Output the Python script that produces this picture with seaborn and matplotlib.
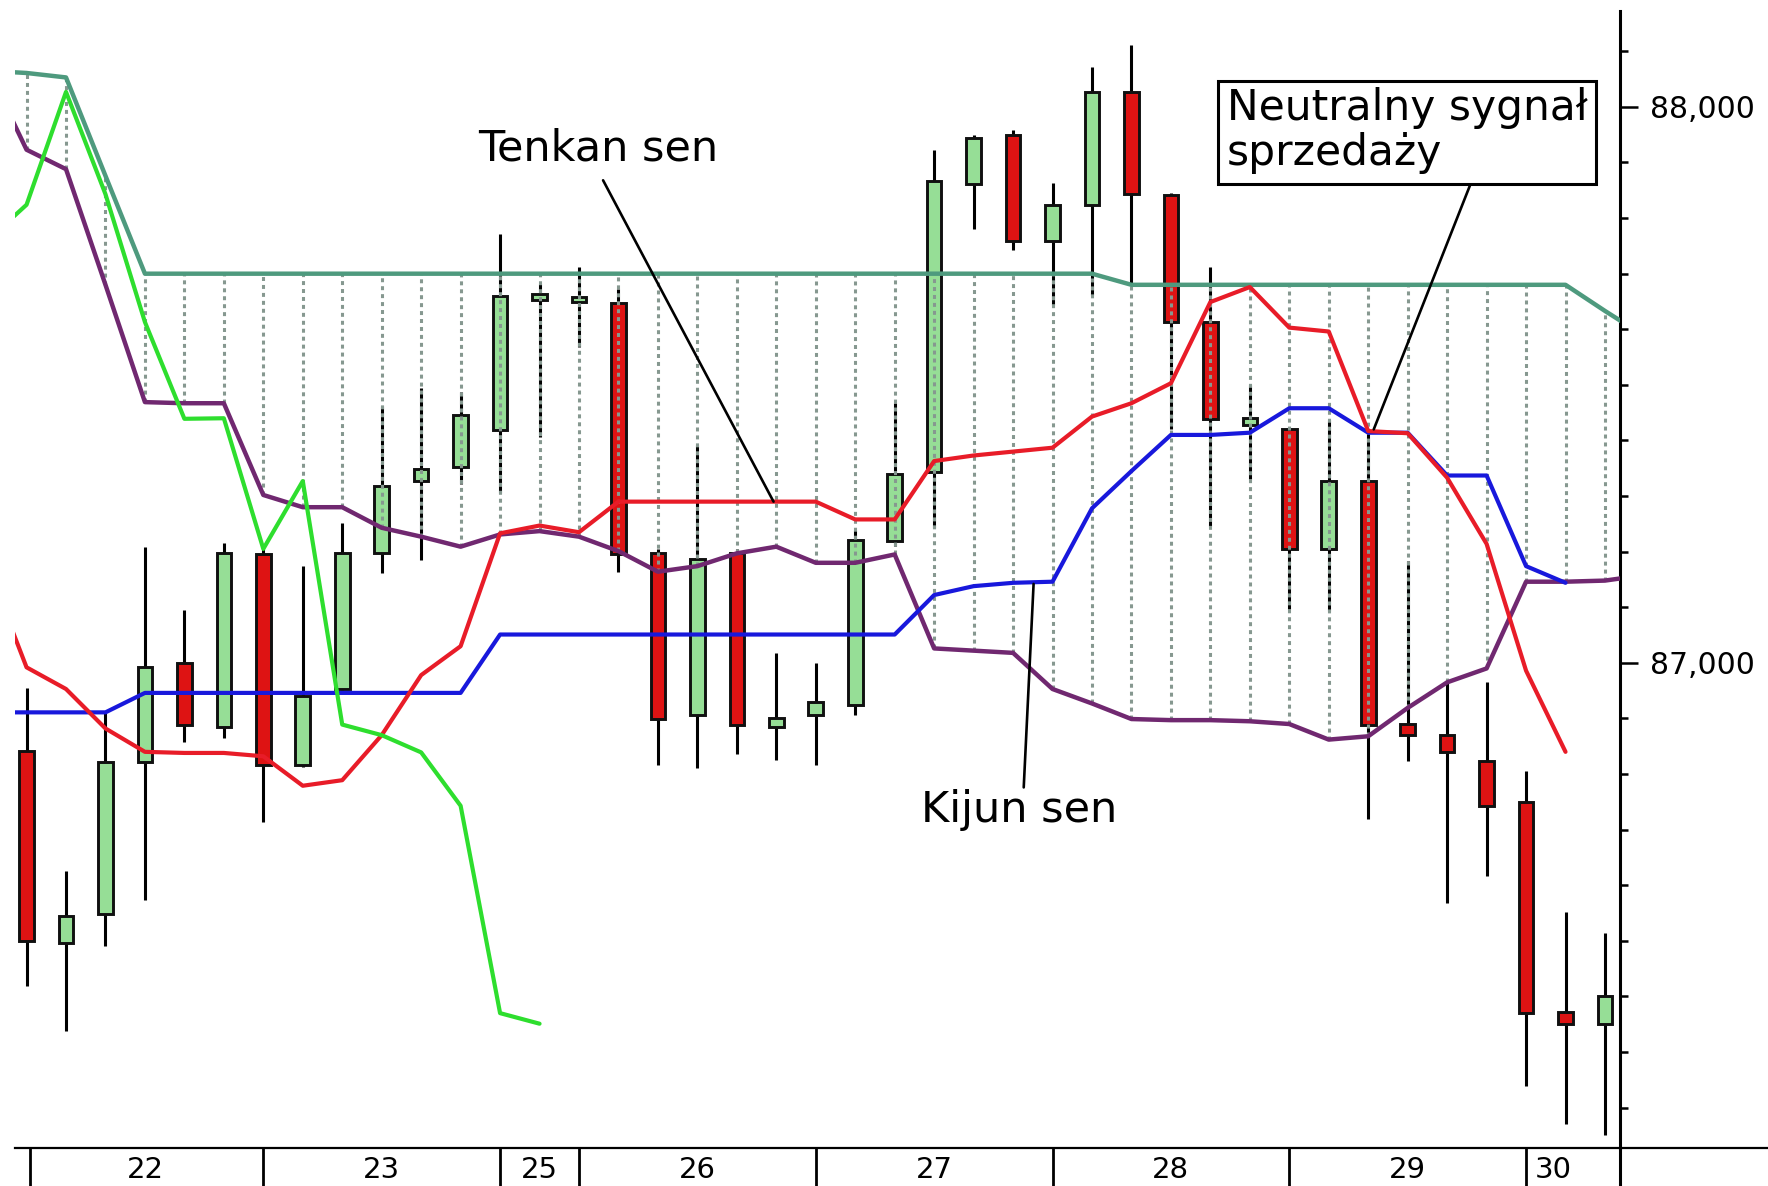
import numpy as np
import seaborn as sns
import matplotlib.pyplot as plt
from matplotlib.lines import Line2D
from matplotlib.patches import Rectangle
from matplotlib.ticker import MultipleLocator

# 4h candles, index 0..40 (22nd to 30th)
opens = [86842, 86497, 86548, 86821, 86999, 86885, 87195, 86816, 86953, 87197,
         87327, 87352, 87418, 87652, 87649, 87648, 87197, 86907, 87197, 86884,
         86906, 86924, 87219, 87344, 87861, 87950, 87759, 87824, 88027, 87841,
         87613, 87428, 87420, 87205, 87327, 86890, 86871, 86823, 86750, 86372,
         86351]
highs = [86955, 86625, 86911, 87208, 87096, 87216, 87207, 87174, 87251, 87462,
         87495, 87488, 87771, 87682, 87712, 87673, 87205, 87391, 87205, 87018,
         86999, 87239, 87467, 87923, 87950, 87959, 87864, 88072, 88111, 87845,
         87712, 87500, 87422, 87437, 87416, 87184, 86965, 86965, 86806, 86552,
         86514]
lows = [86418, 86337, 86491, 86574, 86858, 86864, 86713, 86813, 86951, 87162,
        87185, 87321, 87306, 87406, 87568, 87164, 86816, 86811, 86836, 86825,
        86816, 86907, 87211, 87243, 87781, 87743, 87643, 87661, 87682, 87420,
        87247, 87331, 87097, 87093, 86720, 86823, 86568, 86617, 86239, 86171,
        86151]
closes = [86500, 86545, 86821, 86993, 86888, 87197, 86816, 86941, 87197, 87318,
          87348, 87445, 87659, 87663, 87658, 87195, 86899, 87187, 86889, 86901,
          86929, 87221, 87339, 87867, 87944, 87759, 87824, 88027, 87843, 87613,
          87439, 87440, 87205, 87327, 86889, 86870, 86839, 86743, 86370, 86351,
          86400]

# ichimoku lines (tenkan / kijun from index -1 to 39)
tenkan = [87176, 86992, 86953, 86882, 86840, 86838, 86838, 86832, 86779, 86789,
          86870, 86978, 87030, 87233, 87247, 87235, 87290, 87290, 87290, 87290,
          87290, 87290, 87258, 87258, 87363, 87373, 87380, 87387, 87443, 87467,
          87503, 87649, 87676, 87603, 87596, 87417, 87413, 87333, 87214, 86986,
          86840]
kijun = [86911, 86911, 86911, 86911, 86946, 86946, 86946, 86946, 86946, 86946,
         86946, 86946, 86946, 87051, 87051, 87051, 87051, 87051, 87051, 87051,
         87051, 87051, 87051, 87051, 87122, 87138, 87144, 87146, 87278, 87345,
         87410, 87410, 87414, 87458, 87458, 87414, 87414, 87337, 87337, 87174,
         87144]
# senkou spans from index -1 to 41
span_a = [88071, 87923, 87888, 87680, 87469, 87467, 87467, 87302, 87280, 87280,
          87243, 87227, 87209, 87231, 87237, 87227, 87201, 87164, 87174, 87197,
          87209, 87180, 87180, 87195, 87026, 87022, 87018, 86953, 86927, 86899,
          86897, 86897, 86895, 86890, 86862, 86868, 86919, 86965, 86990, 87146,
          87146, 87148, 87158]
span_b = [88065, 88061, 88053, 87876] + [87700] * 25 + [87680] * 12 + [87633, 87588]
# chikou from index -1 to 13
chikou = [87759, 87824, 88027, 87843, 87613, 87439, 87440, 87205, 87327, 86889,
          86870, 86839, 86743, 86370, 86351]

day_edges = [0.1, 6, 12, 14, 20, 26, 32, 38]
day_pos = [3, 9, 13, 17, 23, 29, 35, 38.7]
day_labels = ['22', '23', '25', '26', '27', '28', '29', '30']
y_major = [87000, 88000]
y_labels = ['87,000', '88,000']

sns.set_style('white')
plt.rcParams['font.family'] = ['DejaVu Sans']
plt.rcParams['text.color'] = 'black'

fig = plt.figure(figsize=(17.68, 11.86), dpi=100)
ax = fig.add_axes([0.0087, 0.0323, 0.9078, 0.9582])

o, h, l, c = map(np.array, (opens, highs, lows, closes))
x = np.arange(len(o))
up = c >= o

# wicks and bodies
ax.vlines(x, l, h, color='black', lw=2.2, zorder=2)
ax.bar(x, np.maximum(np.abs(c - o), 4), bottom=np.minimum(o, c), width=0.37,
       color=np.where(up, '#96de96', '#de1313'), edgecolor='#101010',
       linewidth=2.1, zorder=3)

# cloud hatching
cx = np.arange(-1, 42)
a = np.array(span_a)
b = np.array(span_b)
sel = (cx >= 0) & (cx <= 40)
ax.vlines(cx[sel], np.minimum(a, b)[sel], np.maximum(a, b)[sel],
          colors='#869890', linestyles=(0, (1.3, 1.3)), lw=2.2, zorder=4)

tx = np.arange(-1, 40)
sns.lineplot(x=cx, y=span_b, color='#4e9a7e', linewidth=3.2, ax=ax, zorder=5)
sns.lineplot(x=cx, y=span_a, color='#702870', linewidth=3.2, ax=ax, zorder=5)
sns.lineplot(x=tx, y=kijun, color='#1818dc', linewidth=3.0, ax=ax, zorder=5)
sns.lineplot(x=tx, y=tenkan, color='#e81c28', linewidth=3.0, ax=ax, zorder=5)
sns.lineplot(x=np.arange(-1, 14), y=chikou, color='#2ede2e', linewidth=3.0,
             ax=ax, zorder=5)

# annotations
ax.text(11.44, 87903, 'Tenkan sen', fontsize=31, ha='left', va='baseline',
        color='black', zorder=7)
ax.plot([14.61, 18.93], [87868, 87290], color='black', lw=1.9, zorder=6)
ax.text(22.67, 86713, 'Kijun sen', fontsize=31, ha='left', va='baseline',
        color='black', zorder=7)
ax.plot([25.27, 25.52], [86776, 87142], color='black', lw=1.9, zorder=6)
ax.add_patch(Rectangle((30.19, 87862), 9.57, 185, facecolor='white',
                       edgecolor='black', lw=2.2, zorder=6))
ax.text(30.41, 87896, 'Neutralny sygnał\nsprzedaży', fontsize=30.5, ha='left',
        va='baseline', linespacing=1.08, color='black', zorder=7)
ax.plot([36.58, 34.14], [87859, 87420], color='black', lw=1.9, zorder=6)

ax.set_xlim(-0.283, 40.39)
ax.set_ylim(86128, 88172)
ax.set_xlabel('')
ax.set_ylabel('')

for s in ['left', 'top']:
    ax.spines[s].set_visible(False)
ax.spines['right'].set_linewidth(2.2)
ax.spines['right'].set_color('black')
ax.spines['bottom'].set_linewidth(1.6)
ax.spines['bottom'].set_color('black')

ax.yaxis.tick_right()
ax.set_yticks(y_major)
ax.set_yticklabels(y_labels)
ax.yaxis.set_minor_locator(MultipleLocator(100))
ax.tick_params(axis='y', which='major', direction='out', length=13, width=1.8,
               pad=8, labelsize=21.5, colors='black', right=True, left=False)
ax.tick_params(axis='y', which='minor', direction='out', length=6, width=1.8,
               colors='black', right=True, left=False)

ax.set_xticks(day_edges)
ax.set_xticklabels([])
ax.set_xticks(day_pos, minor=True)
ax.set_xticklabels(day_labels, minor=True)
ax.tick_params(axis='x', which='major', direction='out', length=27.5, width=2,
               colors='black', bottom=True)
ax.tick_params(axis='x', which='minor', length=0, pad=6, labelsize=21,
               colors='black', bottom=True)

# axis lines running out to the figure edge
fig.add_artist(Line2D([0.9165, 1.0], [0.0323, 0.0323], color='black', lw=1.6))
fig.add_artist(Line2D([0.9165, 0.9165], [0.0, 0.0323], color='black', lw=2.2))

fig.savefig('out.png', dpi=100)
